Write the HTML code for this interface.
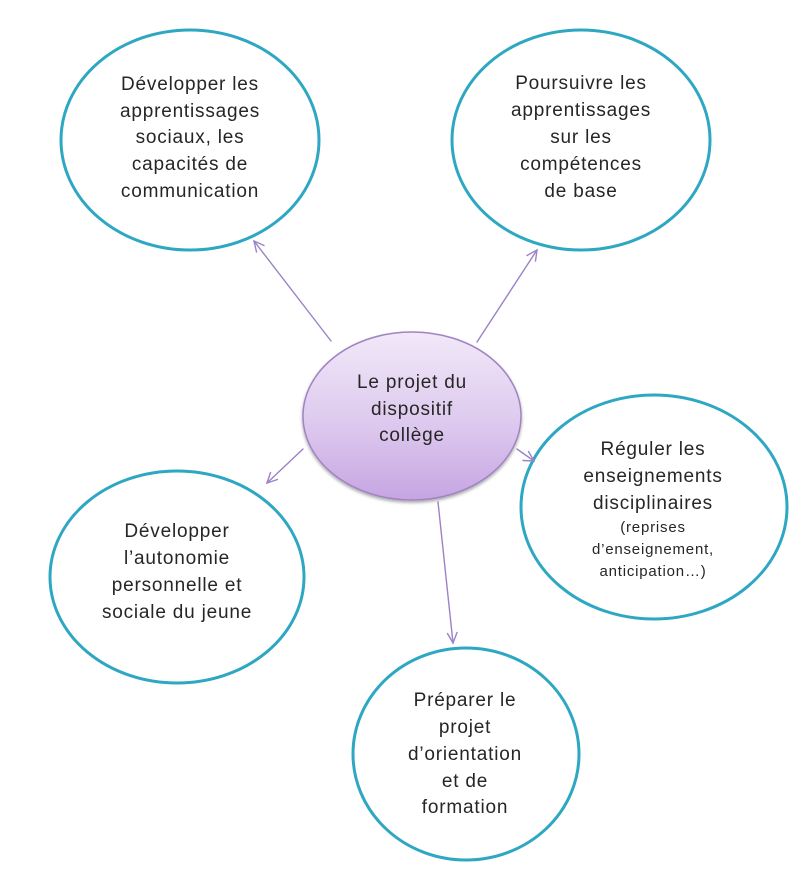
<!DOCTYPE html>
<html>
<head>
<meta charset="utf-8">
<style>
html,body{margin:0;padding:0;background:#fff;}
svg{display:block;}
text{font-family:"Liberation Sans",sans-serif;fill:#262626;letter-spacing:0.8px;}
</style>
</head>
<body>
<svg width="808" height="875" viewBox="0 0 808 875" xmlns="http://www.w3.org/2000/svg">
<defs>
<linearGradient id="g" x1="0" y1="0" x2="0" y2="1">
<stop offset="0" stop-color="#f1e8f8"/>
<stop offset="0.55" stop-color="#ddc9ee"/>
<stop offset="1" stop-color="#c6a5e2"/>
</linearGradient>
<filter id="sh" x="-10%" y="-10%" width="120%" height="125%">
<feGaussianBlur in="SourceAlpha" stdDeviation="1.5"/>
<feOffset dx="0" dy="2" result="b"/>
<feComponentTransfer><feFuncA type="linear" slope="0.35"/></feComponentTransfer>
<feMerge><feMergeNode/><feMergeNode in="SourceGraphic"/></feMerge>
</filter>
</defs>

<!-- outer ellipses -->
<g fill="#fff" stroke="#2ea7c2" stroke-width="3">
<ellipse cx="190" cy="140" rx="129" ry="110"/>
<ellipse cx="581" cy="140" rx="129" ry="110"/>
<ellipse cx="654" cy="507" rx="133" ry="112"/>
<ellipse cx="177" cy="577" rx="127" ry="106"/>
<ellipse cx="466" cy="754" rx="113" ry="106"/>
</g>

<!-- connectors -->
<g stroke="#9c82c6" stroke-width="1.4" fill="none" stroke-linecap="round">
<line x1="331" y1="341" x2="254" y2="241"/>
<polyline points="256.5,252 254,241 264,245.5"/>
<line x1="477" y1="342" x2="537" y2="250"/>
<polyline points="527,255.5 537,250 535.5,261"/>
<line x1="303" y1="449" x2="267" y2="483"/>
<polyline points="270.5,472.5 267,483 277.5,479.5"/>
<line x1="517" y1="449" x2="534" y2="461"/>
<polyline points="523,460.5 534,461 528.5,451.5"/>
<line x1="438" y1="502" x2="453" y2="643"/>
<polyline points="447.5,633.5 453,643 457,632.5"/>
</g>

<!-- center -->
<ellipse cx="412" cy="416" rx="109" ry="84" fill="url(#g)" stroke="#a083c4" stroke-width="1.5" filter="url(#sh)"/>

<g font-size="19" text-anchor="middle">
<text x="412" y="388">Le projet du</text>
<text x="412" y="415">dispositif</text>
<text x="412" y="441">collège</text>

<text x="190" y="90">Développer les</text>
<text x="190" y="117">apprentissages</text>
<text x="190" y="143">sociaux, les</text>
<text x="190" y="170">capacités de</text>
<text x="190" y="197">communication</text>

<text x="581" y="89">Poursuivre les</text>
<text x="581" y="116">apprentissages</text>
<text x="581" y="143">sur les</text>
<text x="581" y="170">compétences</text>
<text x="581" y="197">de base</text>

<text x="653" y="455">Réguler les</text>
<text x="653" y="482">enseignements</text>
<text x="653" y="509">disciplinaires</text>

<text x="177" y="537">Développer</text>
<text x="177" y="564">l’autonomie</text>
<text x="177" y="591">personnelle et</text>
<text x="177" y="618">sociale du jeune</text>

<text x="465" y="706">Préparer le</text>
<text x="465" y="733">projet</text>
<text x="465" y="760">d’orientation</text>
<text x="465" y="787">et de</text>
<text x="465" y="813">formation</text>
</g>
<g font-size="15" text-anchor="middle">
<text x="653" y="532">(reprises</text>
<text x="653" y="554">d’enseignement,</text>
<text x="653" y="576">anticipation…)</text>
</g>
</svg>
</body>
</html>
